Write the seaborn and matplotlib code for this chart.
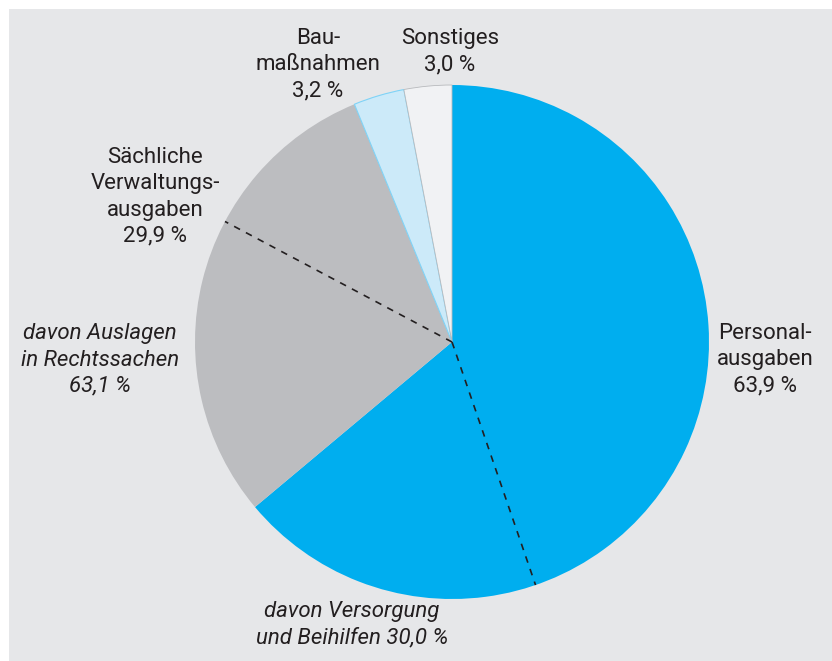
import matplotlib
matplotlib.use("Agg")
from matplotlib import pyplot as plt
import seaborn as sns
import numpy as np

# Anteile in Prozent (im Uhrzeigersinn ab 12 Uhr)
kategorien = ['Personalausgaben', 'Sächliche Verwaltungsausgaben', 'Baumaßnahmen', 'Sonstiges']
anteile = [63.9, 29.9, 3.2, 3.0]
farben = ['#00AEEF', '#BCBDC0', '#CCEAF9', '#F1F2F4']
# "davon"-Anteile innerhalb eines Segments
davon_versorgung = 30.0   # Anteil an Personalausgaben (Ende des Segments)
davon_auslagen = 63.1     # Anteil an Sächlichen Verwaltungsausgaben (Anfang)

sns.set_theme(style="white")
plt.rcParams['font.family'] = ['Roboto', 'DejaVu Sans']
txt = '#231F20'

fig = plt.figure(figsize=(8.32, 6.61), dpi=100)
fig.patch.set_facecolor('#E6E7E9')
# weißer Rand oben und links
fig.patches.append(plt.Rectangle((0, 0), 9 / 832, 1, transform=fig.transFigure,
                                 facecolor='white', edgecolor='none', zorder=0))
fig.patches.append(plt.Rectangle((0, 1 - 9 / 661), 1, 9 / 661, transform=fig.transFigure,
                                 facecolor='white', edgecolor='none', zorder=0))
ax = fig.add_axes([0, 0, 1, 1])
ax.patch.set_alpha(0)

cx, cy, r = 452, 661 - 342, 257
wedges, _ = ax.pie(anteile, colors=farben, startangle=90, counterclock=False,
                   center=(cx, cy), radius=r, frame=True,
                   wedgeprops=dict(linewidth=0))
wedges[2].set_edgecolor('#7FD3F7')
wedges[2].set_linewidth(0.8)
wedges[3].set_edgecolor('#B8BABD')
wedges[3].set_linewidth(0.6)
ax.set_xlim(0, 832)
ax.set_ylim(0, 661)
ax.set_aspect('equal')
ax.axis('off')

# gestrichelte Trennlinien für "davon"-Anteile
total = sum(anteile)
f1 = anteile[0] * (1 - davon_versorgung / 100) / total
f2 = (anteile[0] + anteile[1] * davon_auslagen / 100) / total
for f in (f1, f2):
    ang = np.deg2rad(90 - 360 * f)
    ax.plot([cx, cx + r * np.cos(ang)], [cy, cy + r * np.sin(ang)],
            ls=(0, (4, 4)), color='#231F20', lw=1.2, zorder=5)

fs = 16
def lab(x, y, s, style='normal'):
    ax.text(x, 661 - y, s, ha='center', va='center', fontsize=fs, color=txt,
            linespacing=1.32, style=style, zorder=6)

lab(318, 65, 'Bau-\nmaßnahmen\n3,2 %')
lab(450, 52, 'Sonstiges\n3,0 %')
lab(155, 197, 'Sächliche\nVerwaltungs-\nausgaben\n29,9 %')
lab(100, 360, 'davon Auslagen\nin Rechtssachen\n63,1 %', 'italic')
lab(765, 360, 'Personal-\nausgaben\n63,9 %')
lab(352, 625, 'davon Versorgung\nund Beihilfen 30,0 %', 'italic')

plt.savefig('out.png', dpi=100, facecolor=fig.get_facecolor())
